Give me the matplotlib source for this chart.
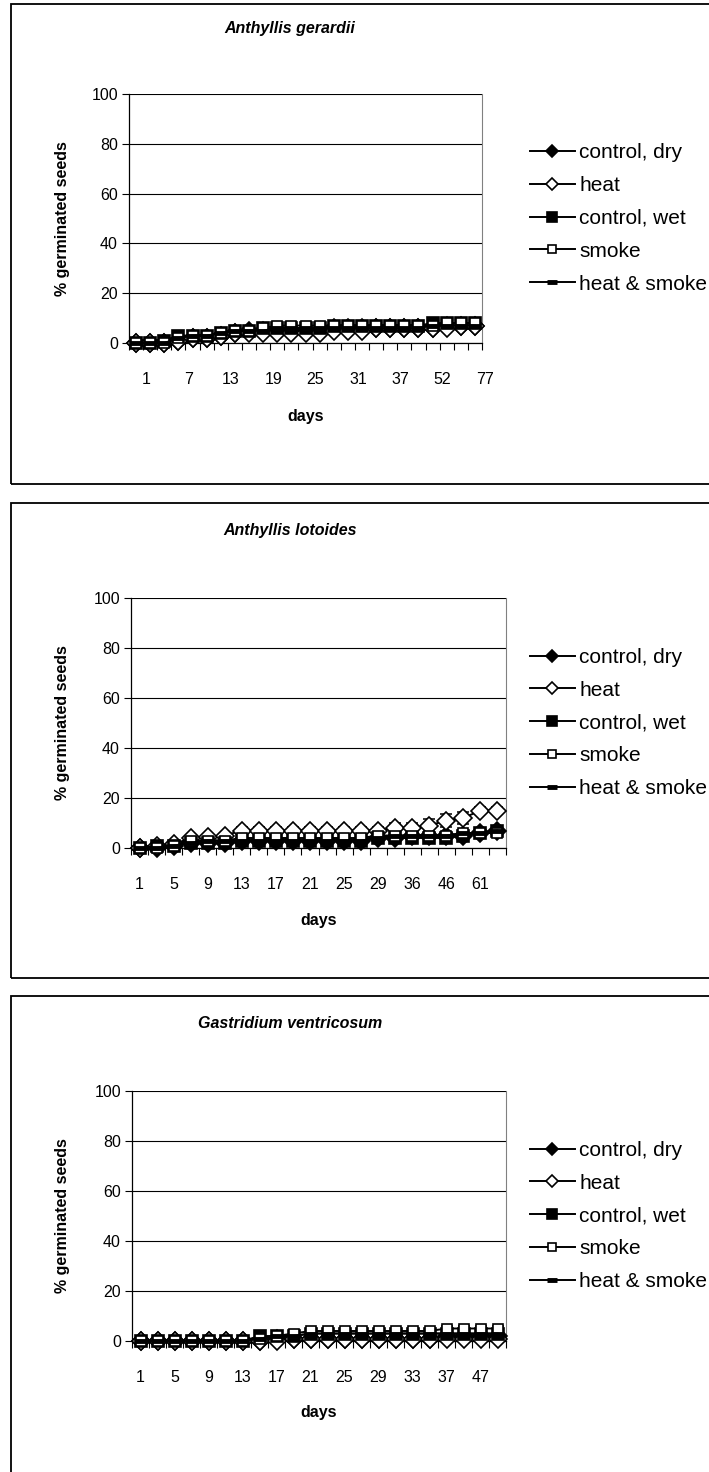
import matplotlib
matplotlib.use('Agg')
import matplotlib.pyplot as plt
from matplotlib.patches import Rectangle
from matplotlib.transforms import ScaledTranslation
import numpy as np

plt.rcParams['font.family'] = ['Liberation Sans', 'DejaVu Sans']

W, H = 709, 1472
series_names = ["control, dry", "heat", "control, wet", "smoke", "heat & smoke"]

# --- Anthyllis gerardii ---
days_ag = [1, 3, 5, 7, 9, 11, 13, 15, 17, 19, 21, 23, 25, 27, 29, 31, 33, 35, 37,
           42, 47, 52, 59, 66, 77]
ag_dry   = [0, 0, 0, 1, 2, 2, 3, 4, 5, 5, 5, 5, 5, 5, 6, 6, 6, 6, 6, 6, 6, 6, 7, 7, 7]
ag_heat  = [0, 0, 0, 1, 2, 2, 3, 4, 4, 4, 4, 4, 4, 4, 5, 5, 5, 6, 6, 6, 6, 6, 6, 7, 7]
ag_wet   = [0, 0, 1, 3, 3, 3, 4, 5, 5, 6, 6, 6, 6, 6, 7, 7, 7, 7, 7, 7, 7, 8, 8, 8, 8]
ag_smoke = [0, 0, 0, 2, 3, 3, 4, 5, 5, 6, 7, 7, 7, 7, 7, 7, 7, 7, 7, 7, 7, 7, 8, 8, 8]
ag_hs    = [0, 0, 0, 2, 3, 3, 4, 5, 5, 5, 6, 6, 6, 6, 6, 6, 6, 6, 6, 6, 6, 7, 7, 7, 7]
ag_err = 1.2

# --- Anthyllis lotoides ---
days_al = [1, 3, 5, 7, 9, 11, 13, 15, 17, 19, 21, 23, 25, 27, 29, 32, 36, 41, 46,
           53, 61, 70]
al_dry   = [0, 0, 1, 2, 2, 2, 3, 3, 3, 3, 3, 3, 3, 3, 4, 4, 5, 5, 5, 5, 6, 7]
al_heat  = [0, 1, 1.5, 4, 4.5, 5, 7, 7, 7, 7, 7, 7, 7, 7, 7, 8, 8, 9, 11, 12, 15, 15]
al_wet   = [0, 1, 1, 2, 2, 2, 3, 3, 3, 3, 3, 3, 3, 3, 4, 4, 4, 4, 4, 5, 6, 7]
al_smoke = [0, 0, 1, 3, 3, 3, 4, 4, 4, 4, 4, 4, 4, 4, 5, 5, 5, 5, 5, 6, 6, 6]
al_hs    = [0, 0, 1, 2, 3, 3, 3, 3, 3, 3, 3, 3, 3, 3, 4, 5, 5, 5, 5, 6, 6, 7]
al_heat_err = [0, 0.5, 0.8, 1, 1, 1.2, 1.5, 1.5, 1.5, 1.5, 1.5, 1.5, 1.5, 1.5, 1.5,
               2, 2, 2.5, 2.5, 2.5, 1.5, 1.5]
al_err = 1.0

# --- Gastridium ventricosum ---
days_gv = [1, 3, 5, 7, 9, 11, 13, 15, 17, 19, 21, 23, 25, 27, 29, 31, 33, 35, 37,
           42, 47, 52]
gv_dry   = [0, 0, 0, 0, 0, 0, 0, 0, 1, 1, 1, 1, 1, 1, 1, 1, 1, 1, 2, 2, 2, 2]
gv_heat  = [0, 0, 0, 0, 0, 0, 0, 0, 0, 1, 1, 1, 1, 1, 1, 1, 1, 1, 1, 1, 1, 1]
gv_wet   = [0, 0, 0, 0, 0, 0, 0, 2, 2, 2, 3, 3, 3, 3, 3, 3, 3, 3, 3, 3, 3, 3]
gv_smoke = [0, 0, 0, 0, 0, 0, 0, 1, 2, 3, 4, 4, 4, 4, 4, 4, 4, 4, 5, 5, 5, 5]
gv_hs    = [0, 0, 0, 0, 0, 0, 0, 1, 2, 2, 3, 3, 3, 3, 3, 3, 3, 3, 3, 3, 3, 3]
gv_err = 1.0

panels = [
    dict(title="Anthyllis gerardii", days=days_ag, step=3, lab_shift=10,
         data=[ag_dry, ag_heat, ag_wet, ag_smoke, ag_hs],
         err=[ag_err] * 5,
         box=(4, 484), axpx=(129, 482, 94, 343), title_y=29, days_y=417),
    dict(title="Anthyllis lotoides", days=days_al, step=2, lab_shift=0,
         data=[al_dry, al_heat, al_wet, al_smoke, al_hs],
         err=[al_err, al_heat_err, al_err, al_err, al_err],
         box=(503, 978), axpx=(131, 506, 598, 848), title_y=531, days_y=921),
    dict(title="Gastridium ventricosum", days=days_gv, step=2, lab_shift=0,
         data=[gv_dry, gv_heat, gv_wet, gv_smoke, gv_hs],
         err=[gv_err] * 5,
         box=(996, 1490), axpx=(132, 506, 1091, 1341), title_y=1024, days_y=1412),
]

styles = [
    dict(marker='D', mfc='black', ms=9),
    dict(marker='D', mfc='white', ms=9),
    dict(marker='s', mfc='black', ms=8),
    dict(marker='s', mfc='white', ms=7),
    dict(marker='_', mfc='black', ms=9, mew=3.5),
]
leg_ms = [6.5, 6.5, 6.5, 5.5, 7]

fig = plt.figure(figsize=(W / 100, H / 100), dpi=100)
fig.patch.set_facecolor('white')


def fx(px):
    return px / W


def fy(py):
    return 1 - py / H


for p in panels:
    top, bot = p['box']
    fig.patches.append(Rectangle((fx(11), fy(bot)), fx(720 - 11), fy(top) - fy(bot),
                                 transform=fig.transFigure, fill=False,
                                 edgecolor='black', linewidth=1.3, zorder=0))
    x0, x1, y0, y1 = p['axpx']
    ax = fig.add_axes([fx(x0), fy(y1), fx(x1 - x0), fy(y0) - fy(y1)])
    n = len(p['days'])
    x = np.arange(n)
    handles = []
    for vals, err, st, name in zip(p['data'], p['err'], styles, series_names):
        ax.errorbar(x, vals, yerr=err, fmt='none', ecolor='black', elinewidth=1.1,
                    capsize=4.5, capthick=1.1, zorder=3)
        ln, = ax.plot(x, vals, color='black', lw=1.4, marker=st['marker'],
                      mfc=st['mfc'], mec='black', ms=st['ms'], mew=st.get('mew', 1.2),
                      label=name, zorder=4, clip_on=False)
        handles.append(ln)

    ax.set_xlim(-0.5, n - 0.5)
    ax.set_ylim(0, 100)
    ax.set_yticks([0, 20, 40, 60, 80, 100])
    ax.yaxis.grid(True, color='black', lw=0.8)
    ax.set_axisbelow(True)
    ax.tick_params(axis='y', direction='out', length=5, width=0.8, labelsize=11.5, pad=3)

    lab_idx = list(range(0, n, p['step']))
    ax.set_xticks(lab_idx)
    ax.set_xticklabels([str(p['days'][i]) for i in lab_idx])
    ax.set_xticks(np.arange(-0.5, n, 1.0), minor=True)
    ax.tick_params(axis='x', which='major', length=0, labelsize=11.5, pad=21)
    ax.tick_params(axis='x', which='minor', direction='out', length=5, width=0.8)
    if p['lab_shift']:
        shift = ScaledTranslation(p['lab_shift'] / 100, 0, fig.dpi_scale_trans)
        for lbl in ax.get_xticklabels():
            lbl.set_transform(lbl.get_transform() + shift)

    for s in ['left', 'bottom']:
        ax.spines[s].set_color('black')
        ax.spines[s].set_linewidth(0.9)
    ax.spines['right'].set_color('#808080')
    ax.spines['top'].set_visible(False)

    fig.text(fx(290), fy(p['title_y']), p['title'], ha='center', va='center',
             fontsize=11.5, fontweight='bold', style='italic')
    fig.text(fx(62), fy((y0 + y1) / 2), "% germinated seeds", rotation=90,
             ha='center', va='center', fontsize=11.5, fontweight='bold')
    fig.text(fx((x0 + x1) / 2), fy(p['days_y']), "days", ha='center', va='center',
             fontsize=11.5, fontweight='bold')

    leg = ax.legend(handles=handles, loc='center left',
                    bbox_to_anchor=(fx(530), fy((y0 + y1) / 2)),
                    bbox_transform=fig.transFigure, frameon=False, fontsize=15,
                    handlelength=2.15, handletextpad=0.22, labelspacing=0.66, borderpad=0,
                    borderaxespad=0)
    for lh, m in zip(leg.get_lines(), leg_ms):
        lh.set_markersize(m)

fig.savefig("out.png", dpi=100, facecolor='white')
